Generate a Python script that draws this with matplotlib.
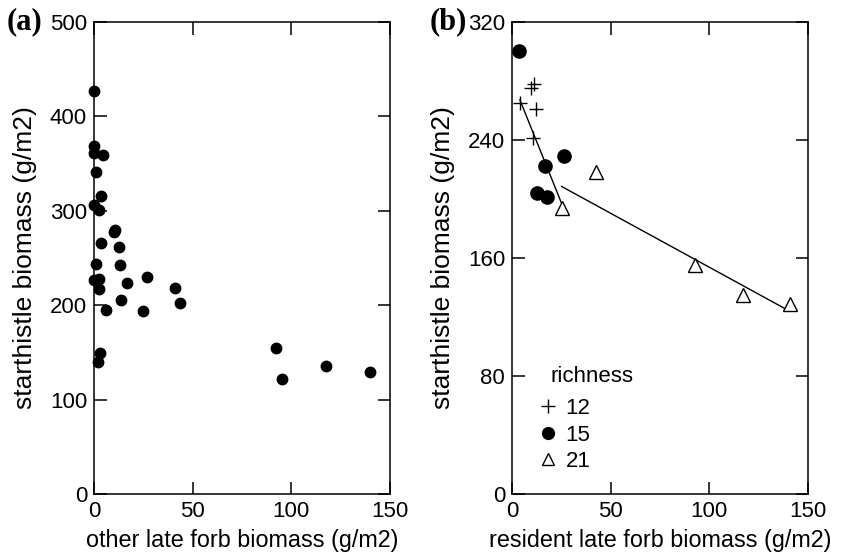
import matplotlib
matplotlib.use("Agg")
import matplotlib.pyplot as plt
from matplotlib.lines import Line2D

# ---------------- data ----------------
# panel (a): other late forb biomass vs starthistle biomass
a_x = [0, 0, 0, 4.7, 1, 3.4, 0, 2.7, 10.3, 10.8, 3.4, 12.8, 1, 13.2, 0, 2.5,
       27, 16.6, 2.4, 41.2, 13.5, 43.6, 6.2, 24.7, 3.2, 1.9,
       92.2, 95.1, 117.4, 139.9]
a_y = [427, 368, 361, 359, 341, 316, 306, 301, 277, 279, 266, 262, 244, 242, 227, 228,
       230, 223, 217, 218, 205, 202, 195, 194, 149, 140,
       155, 122, 135, 129.5]

# panel (b): resident late forb biomass vs starthistle biomass, by richness
r12_x = [9.6, 11.3, 4.0, 12.0, 10.8]
r12_y = [275, 278, 265, 261, 241.5]
r15_x = [3.7, 26.3, 16.8, 12.8, 17.5]
r15_y = [300, 229, 222, 204, 201]
r21_x = [42.4, 25.1, 92.9, 117.3, 140.7]
r21_y = [218, 194, 155, 135, 129]

# fitted lines
fit12_x = [4.0, 25.1]
fit12_y = [267, 197]
fit21_x = [25.1, 140.8]
fit21_y = [208.4, 123.8]

richness_labels = ["12", "15", "21"]
a_yticks = [0, 100, 200, 300, 400, 500]
b_yticks = [0, 80, 160, 240, 320]
xticks = [0, 50, 100, 150]

# ---------------- style ----------------
FONT = "Liberation Sans"
FS = 16
FSL = 16.8
FSY = 19
plt.rcParams["font.family"] = [FONT, "DejaVu Sans"]
plt.rcParams["font.size"] = FS

fig = plt.figure(figsize=(8.45, 5.52), dpi=100)
W, H = 845, 552
def rect(l, r, t, b):
    return [l / W, 1 - b / H, (r - l) / W, (b - t) / H]

axa = fig.add_axes(rect(94, 390, 21.7, 494))
axb = fig.add_axes(rect(512, 808, 21.7, 494))

for ax in (axa, axb):
    for s in ax.spines.values():
        s.set_linewidth(1.1)
    ax.tick_params(direction="in", length=9, width=1.1, top=True, right=True,
                   labelsize=FS, pad=5)
    ax.set_xlim(0, 150)
    ax.set_xticks(xticks)

# panel a
axa.plot(a_x, a_y, "o", color="black", markersize=7.5, clip_on=False, zorder=3)
axa.set_ylim(0, 500)
axa.set_yticks(a_yticks)
axa.set_xlabel("other late forb biomass (g/m2)", fontsize=FSL, labelpad=5)
axa.set_ylabel("starthistle biomass (g/m2)", fontsize=FSY, labelpad=9)

# panel b
axb.plot(fit12_x, fit12_y, "-", color="black", lw=1.0)
axb.plot(fit21_x, fit21_y, "-", color="black", lw=1.0)
axb.plot(r12_x, r12_y, "+", color="black", markersize=10, mew=1.0, linestyle="none")
axb.plot(r15_x, r15_y, "o", color="black", markersize=9.5, linestyle="none", clip_on=False)
axb.plot(r21_x, r21_y, "^", color="black", mfc="white", markersize=10, mew=1.0,
         linestyle="none")
axb.set_ylim(0, 320)
axb.set_yticks(b_yticks)
axb.set_xlabel("resident late forb biomass (g/m2)", fontsize=FSL, labelpad=5)
axb.set_ylabel("starthistle biomass (g/m2)", fontsize=FSY, labelpad=9)

handles = [
    Line2D([], [], marker="+", color="black", linestyle="none", markersize=10, mew=1.0),
    Line2D([], [], marker="o", color="black", linestyle="none", markersize=8.5),
    Line2D([], [], marker="^", color="black", mfc="white", linestyle="none",
           markersize=9, mew=1.0),
]
axb.legend(handles, richness_labels, loc="upper left",
           bbox_to_anchor=((539 - 512) / 296, (494 - 398) / 472.3),
           frameon=False, borderpad=0, borderaxespad=0, handlelength=0.85,
           handletextpad=0.35, labelspacing=0.25, fontsize=FS)
axb.text((550 - 512) / 296, (494 - 376) / 472.3, "richness", transform=axb.transAxes,
         ha="left", va="center", fontsize=FS)

fig.text(7 / W, 1 - 22 / H, "(a)", family="Liberation Serif", weight="bold",
         fontsize=22, ha="left", va="center")
fig.text(430 / W, 1 - 22 / H, "(b)", family="Liberation Serif", weight="bold",
         fontsize=22, ha="left", va="center")

fig.savefig("out.png", dpi=100)
